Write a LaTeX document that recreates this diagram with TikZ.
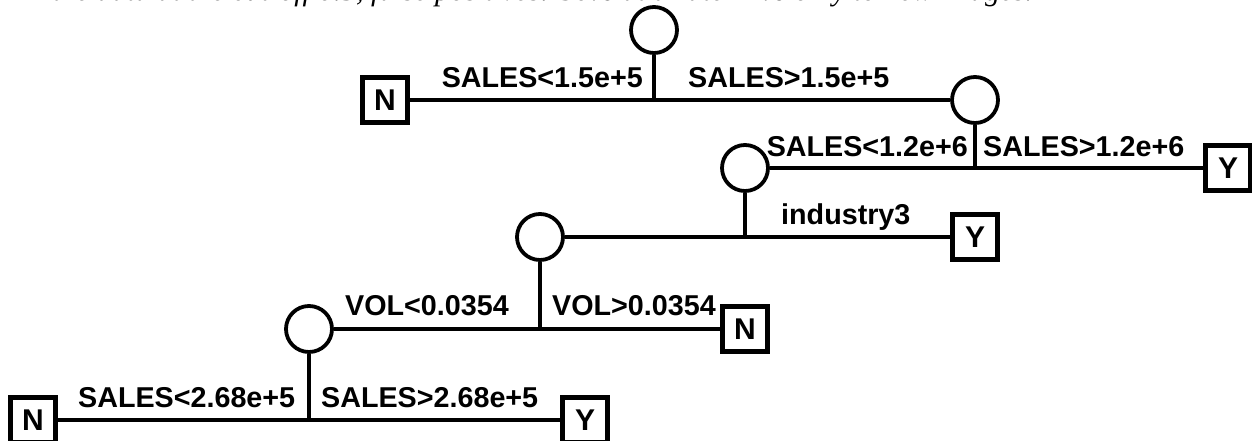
\documentclass[tikz,border=0pt]{standalone}
\usepackage{fontspec}
\setmainfont{Liberation Sans}
\newfontfamily\capfont{Liberation Serif}
\begin{document}
\begin{tikzpicture}[x=1pt,y=-1pt,
  link/.style={line width=4.6pt},
  split/.style={circle,draw,line width=3.8pt,minimum size=46pt,inner sep=0pt},
  leaf/.style={rectangle,draw,line width=4.4pt,minimum size=45pt,inner sep=0pt,
    font=\fontsize{30}{36}\selectfont\bfseries},
  cond/.style={font=\fontsize{28.7}{34}\selectfont\bfseries,inner sep=0pt}]
\useasboundingbox (0,0) rectangle (1252,441);
\clip (0,0) rectangle (1252,441);

% caption line running off the top edge
\node[anchor=base west,inner sep=0pt,font=\capfont\itshape\fontsize{30}{36}\selectfont]
  (caption) at (30,1) {n the data at the cut-off 0.5, false positives: 30\% at a rate 14\% only to new images.};

% split nodes
\node[split] (c1) at (654,30) {};
\node[split] (c2) at (975,100) {};
\node[split] (c3) at (745,168) {};
\node[split] (c4) at (540,237) {};
\node[split] (c5) at (309,329) {};

% leaves
\node[leaf] (n1) at (385,100) {N};
\node[leaf] (y2) at (1228,168) {Y};
\node[leaf] (y3) at (975,237) {Y};
\node[leaf] (n4) at (745,329) {N};
\node[leaf] (n5) at (33,420) {N};
\node[leaf] (y5) at (585,420) {Y};

% junctions where the stems meet the branch bars
\coordinate (j1) at (654,100);
\coordinate (j2) at (975,168);
\coordinate (j3) at (745,237);
\coordinate (j4) at (540,329);
\coordinate (j5) at (309,420);

% branch bars
\draw[link] (n1) -- (c2);
\draw[link] (c3) -- (y2);
\draw[link] (c4) -- (y3);
\draw[link] (c5) -- (n4);
\draw[link] (n5) -- (y5);

% stems
\draw[link] (c1) -- (j1);
\draw[link] (c2) -- (j2);
\draw[link] (c3) -- (j3);
\draw[link] (c4) -- (j4);
\draw[link] (c5) -- (j5);

% split conditions
\node[cond,anchor=base east] (l1a) at (643,88) {SALES<1.5e+5};
\node[cond,anchor=base west] (l1b) at (688,88) {SALES>1.5e+5};
\node[cond,anchor=base east] (l2a) at (968,157) {SALES<1.2e+6};
\node[cond,anchor=base west] (l2b) at (983,157) {SALES>1.2e+6};
\node[cond,anchor=base west] (l3)  at (781,224) {industry3};
\node[cond,anchor=base west] (l4a) at (345,315) {VOL<0.0354};
\node[cond,anchor=base west] (l4b) at (552,315) {VOL>0.0354};
\node[cond,anchor=base west] (l5a) at (78,407)  {SALES<2.68e+5};
\node[cond,anchor=base west] (l5b) at (321,407) {SALES>2.68e+5};
\end{tikzpicture}
\end{document}
